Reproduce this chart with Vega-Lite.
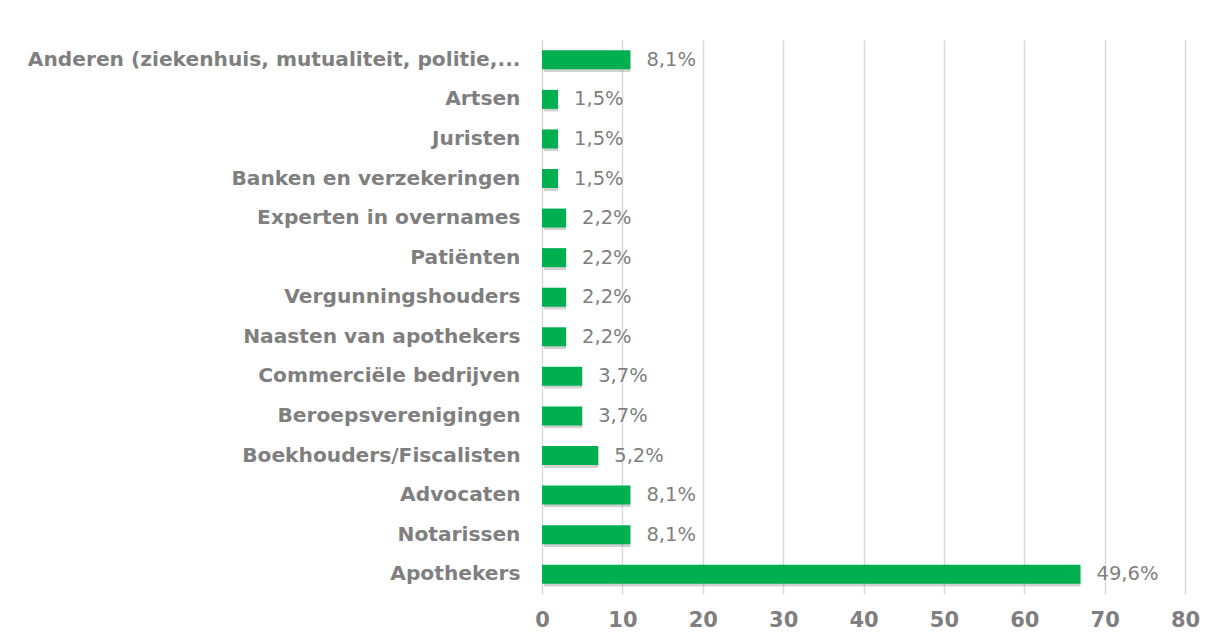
{
  "$schema": "https://vega.github.io/schema/vega-lite/v6.json",
  "width": 643,
  "height": 554,
  "autosize": "none",
  "padding": {"left": 542, "top": 40, "right": 32, "bottom": 49},
  "background": "white",
  "config": {
    "view": {"stroke": null},
    "font": "DejaVu Sans"
  },
  "data": {
    "values": [
      {"categorie": "Anderen (ziekenhuis, mutualiteit, politie,...", "aantal": 11, "label": "8,1%"},
      {"categorie": "Artsen", "aantal": 2, "label": "1,5%"},
      {"categorie": "Juristen", "aantal": 2, "label": "1,5%"},
      {"categorie": "Banken en verzekeringen", "aantal": 2, "label": "1,5%"},
      {"categorie": "Experten in overnames", "aantal": 3, "label": "2,2%"},
      {"categorie": "Patiënten", "aantal": 3, "label": "2,2%"},
      {"categorie": "Vergunningshouders", "aantal": 3, "label": "2,2%"},
      {"categorie": "Naasten van apothekers", "aantal": 3, "label": "2,2%"},
      {"categorie": "Commerciële bedrijven", "aantal": 5, "label": "3,7%"},
      {"categorie": "Beroepsverenigingen", "aantal": 5, "label": "3,7%"},
      {"categorie": "Boekhouders/Fiscalisten", "aantal": 7, "label": "5,2%"},
      {"categorie": "Advocaten", "aantal": 11, "label": "8,1%"},
      {"categorie": "Notarissen", "aantal": 11, "label": "8,1%"},
      {"categorie": "Apothekers", "aantal": 67, "label": "49,6%"}
    ]
  },
  "encoding": {
    "y": {
      "field": "categorie",
      "type": "nominal",
      "sort": null,
      "scale": {"paddingInner": 0.52, "paddingOuter": 0.26},
      "axis": {
        "title": null,
        "ticks": false,
        "domain": false,
        "labelFont": "DejaVu Sans",
        "labelFontSize": 20.2,
        "labelFontWeight": "bold",
        "labelColor": "#7f7f7f",
        "labelPadding": 22,
        "labelLimit": 600
      }
    },
    "x": {
      "field": "aantal",
      "type": "quantitative",
      "scale": {"domain": [0, 80], "nice": false},
      "axis": {
        "title": null,
        "values": [0, 10, 20, 30, 40, 50, 60, 70, 80],
        "ticks": false,
        "domain": false,
        "grid": true,
        "gridColor": "#d9d9d9",
        "gridWidth": 1.5,
        "labelFont": "DejaVu Sans",
        "labelFontSize": 21,
        "labelFontWeight": "bold",
        "labelColor": "#7f7f7f",
        "labelPadding": 15,
        "labelFlush": false
      }
    }
  },
  "layer": [
    {
      "mark": {"type": "bar", "color": "#7a7a7a", "opacity": 0.35, "xOffset": 2, "yOffset": 3, "cornerRadius": 1}
    },
    {
      "mark": {"type": "bar", "color": "#00b050"}
    },
    {
      "mark": {"type": "text", "align": "left", "baseline": "middle", "dx": 16, "fontSize": 19.5, "color": "#7f7f7f", "font": "DejaVu Sans"},
      "encoding": {"text": {"field": "label"}}
    }
  ]
}
